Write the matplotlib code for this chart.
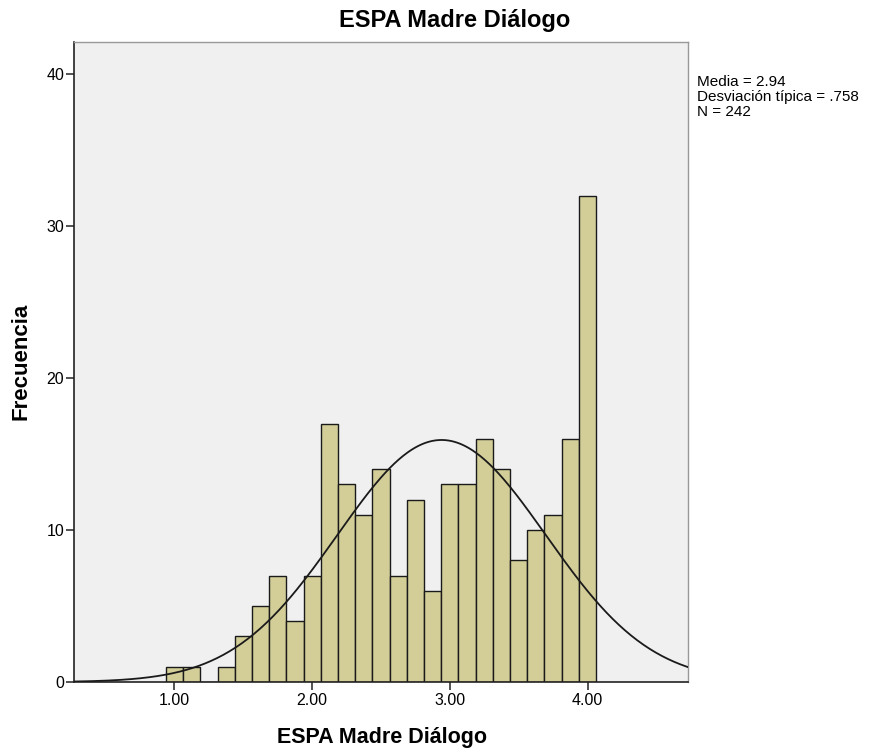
import numpy as np
import matplotlib
matplotlib.use("Agg")
import matplotlib.pyplot as plt

plt.rcParams['font.family'] = ['Liberation Sans', 'DejaVu Sans']

# histogram data (bin centres, width 0.125)
bin_centers = [1.0, 1.125, 1.25, 1.375, 1.5, 1.625, 1.75, 1.875, 2.0, 2.125,
               2.25, 2.375, 2.5, 2.625, 2.75, 2.875, 3.0, 3.125, 3.25, 3.375,
               3.5, 3.625, 3.75, 3.875, 4.0]
counts = [1, 1, 0, 1, 3, 5, 7, 4, 7, 17,
          13, 11, 14, 7, 12, 6, 13, 13, 16, 14,
          8, 10, 11, 16, 32]
bin_width = 0.125
media = 2.94
desv = 0.758
n = 242

x_ticks = [1, 2, 3, 4]
y_ticks = [0, 10, 20, 30, 40]

W, H = 875, 755
fig = plt.figure(figsize=(W / 100, H / 100), dpi=100)
ax = fig.add_axes([74/W, 73/H, 614/W, 640/H])
ax.set_facecolor('#F0F0F0')

ax.bar(bin_centers, counts, width=bin_width, color='#D3CE98',
       edgecolor='#1a1a1a', linewidth=1.0, zorder=2)

xs = np.linspace(0.27, 4.73, 400)
ys = n * bin_width * np.exp(-0.5 * ((xs - media) / desv) ** 2) / (desv * np.sqrt(2 * np.pi))
ax.plot(xs, ys, color='#1a1a1a', linewidth=1.3, zorder=3)

ax.set_xlim(0.27, 4.73)
ax.set_ylim(0, 42.1)
ax.set_xticks(x_ticks)
ax.set_xticklabels(['%.2f' % t for t in x_ticks])
ax.set_yticks(y_ticks)
ax.tick_params(direction='out', length=6, width=1.2, labelsize=11.5, color='#333333')
ax.tick_params(axis='x', pad=2)
ax.tick_params(axis='y', pad=1)

for s in ['left', 'bottom']:
    ax.spines[s].set_color('#222222')
    ax.spines[s].set_linewidth(1.2)
for s in ['top', 'right']:
    ax.spines[s].set_color('#999999')
    ax.spines[s].set_linewidth(1.0)

# titles placed in pixel positions like the original
fig.text(455/W, 1 - 21/H, 'ESPA Madre Diálogo', fontsize=17, fontweight='bold',
         ha='center', va='center')
fig.text(382/W, 1 - 737/H, 'ESPA Madre Diálogo', fontsize=15.5, fontweight='bold',
         ha='center', va='center')
fig.text(21/W, 1 - 361/H, 'Frecuencia', fontsize=16, fontweight='bold',
         ha='center', va='center', rotation=90)

fig.text(697/W, 1 - 75/H,
         'Media = %.2f\nDesviación típica = .%d\nN = %d' % (media, round(desv * 1000), n),
         fontsize=11, va='top', ha='left', linespacing=1.1)

fig.savefig('out.png', dpi=100, facecolor='white')
